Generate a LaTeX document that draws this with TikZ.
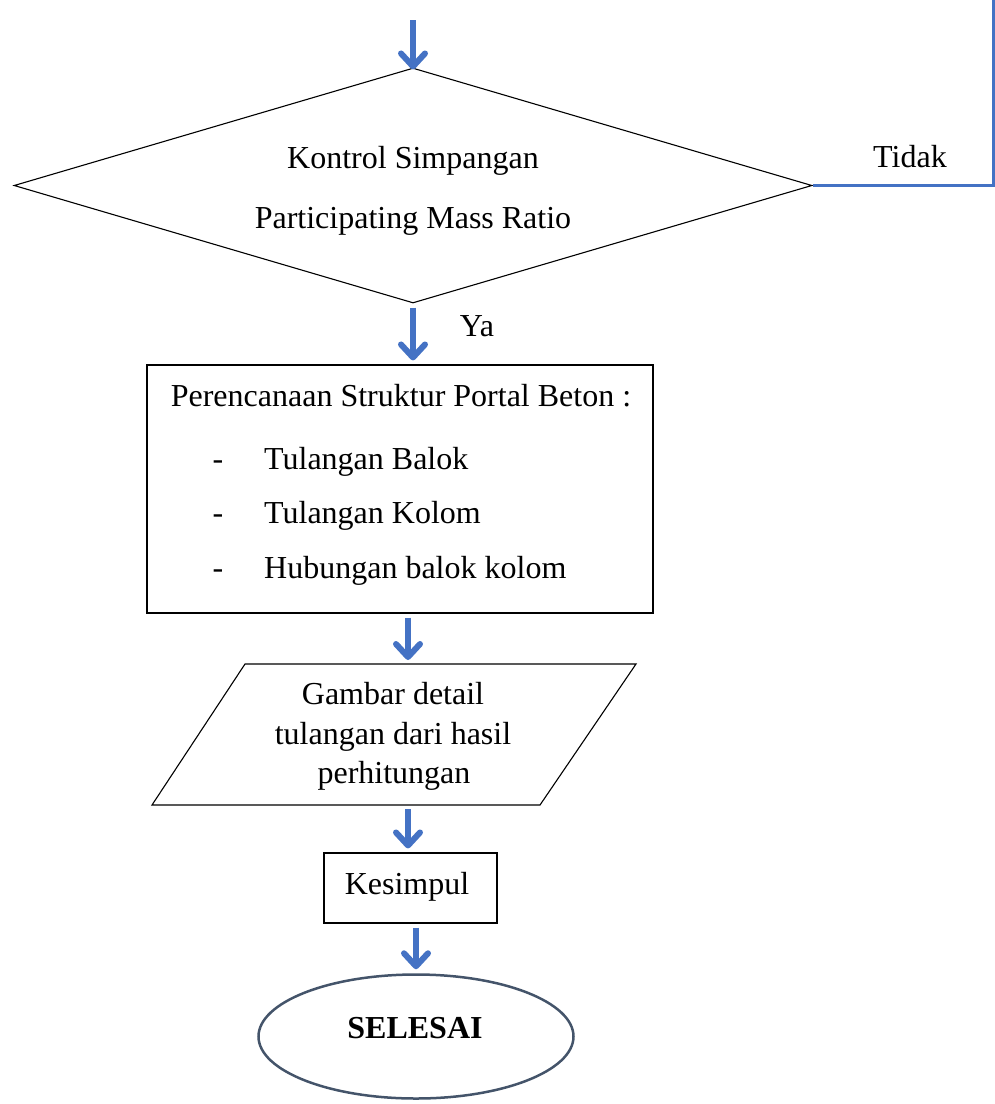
\documentclass[tikz,border=0pt]{standalone}
\usepackage{fontspec}
\setmainfont{Liberation Serif}
\usetikzlibrary{shapes.geometric,arrows.meta,calc}
\definecolor{flowblue}{HTML}{4472C4}
\definecolor{slate}{HTML}{44546A}
\begin{document}
\begin{tikzpicture}[x=1pt,y=-1pt,
  every node/.style={font=\fontsize{32pt}{38pt}\selectfont, inner sep=0pt},
  txt/.style={anchor=base},
  shapeline/.style={draw=black, line width=1.1pt},
  flowarrow/.style={draw=flowblue, line width=6pt,
    -{Straight Barb[length=13pt,width=24pt,round]}, shorten <=4pt, shorten >=4pt},
  loopline/.style={draw=flowblue, line width=3pt}]
\useasboundingbox (0,0) rectangle (995,1104);

% shapes
\node[shapeline, diamond, minimum width=798pt, minimum height=235pt] (dia) at (413,185.5) {};
\node[shapeline, rectangle, minimum width=506pt, minimum height=248pt] (r1) at (400,489) {};
\coordinate (paraTL) at (245,664);
\coordinate (paraTR) at (636,664);
\coordinate (paraBR) at (540,805);
\coordinate (paraBL) at (152,805);
\draw[shapeline, line join=miter] (paraTL) -- (paraTR) -- (paraBR) -- (paraBL) -- cycle;
\coordinate (paraN) at (408,664);
\coordinate (paraS) at (408,805);
\node[shapeline, rectangle, minimum width=173pt, minimum height=70pt] (r2) at (410.5,888) {};
\node[draw=slate, line width=2.5pt, ellipse, minimum width=315pt, minimum height=124pt] (end) at (416,1036.5) {};

% texts
\node[txt] (t1) at (413,168) {Kontrol Simpangan};
\node[txt] (t2) at (413,228) {Participating Mass Ratio};
\node[txt] (tidak) at (910,167) {Tidak};
\node[txt] (ya) at (477,336) {Ya};
\node[txt] (r1title) at (401,406) {Perencanaan Struktur Portal Beton :};
\node[txt] (d1) at (218,469) {-};
\node[txt] (d2) at (218,523) {-};
\node[txt] (d3) at (218,578) {-};
\node[txt, anchor=base west] (i1) at (264,469) {Tulangan Balok};
\node[txt, anchor=base west] (i2) at (264,523) {Tulangan Kolom};
\node[txt, anchor=base west] (i3) at (264,578) {Hubungan balok kolom};
\node[txt] (p1) at (393,704) {Gambar detail};
\node[txt] (p2) at (393,744) {tulangan dari hasil};
\node[txt] (p3) at (394,783) {perhitungan};
\node[txt] (kes) at (407,894) {Kesimpul};
\node[txt, font=\fontsize{32pt}{38pt}\selectfont\bfseries] (sel) at (415,1038) {SELESAI};

% connectors
\coordinate (topstart) at (413,16);
\coordinate (loopend) at (993,0);
\draw[flowarrow, shorten >=-2pt] (topstart) -- (dia.north);
\draw[loopline] (dia.east) -| (loopend);
\draw[flowarrow] (dia.south) -- (dia.south |- r1.north);
\draw[flowarrow] ([xshift=8pt]r1.south) -- (paraN);
\draw[flowarrow] (paraS) -- (paraS |- r2.north);
\draw[flowarrow] ([xshift=5.5pt]r2.south) -- (end.north);
\end{tikzpicture}
\end{document}
